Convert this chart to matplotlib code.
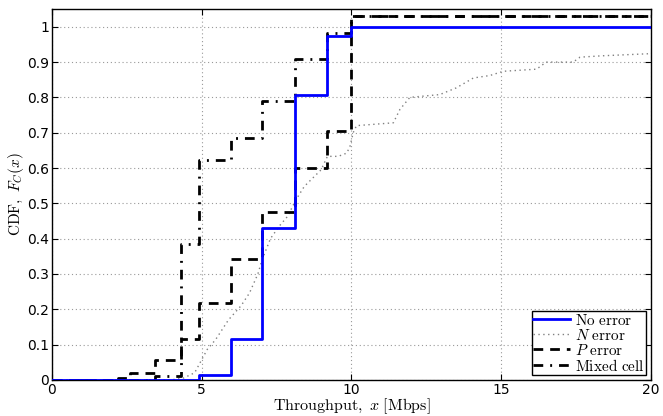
import matplotlib
matplotlib.use("Agg")
import matplotlib.pyplot as plt

plt.rcParams['mathtext.fontset'] = 'cm'
plt.rcParams['font.family'] = ['DejaVu Sans']

# No error (blue step CDF)
noerr_x = [0, 4.91, 5.98, 7.02, 8.12, 9.2, 10.0, 20]
noerr_y = [0, 0.015, 0.116, 0.43, 0.807, 0.974, 1.0, 1.0]

# P error (dashed step CDF)
perr_x = [0, 2.2, 2.6, 3.45, 4.33, 4.92, 5.98, 7.02, 8.12, 9.2, 10.0, 20]
perr_y = [0, 0.005, 0.019, 0.055, 0.117, 0.217, 0.342, 0.475, 0.6, 0.705, 1.032, 1.032]

# Mixed cell (dash-dot step CDF)
mixed_x = [0, 3.44, 4.33, 4.91, 5.98, 7.02, 8.12, 9.2, 10.0, 20]
mixed_y = [0, 0.012, 0.385, 0.623, 0.686, 0.79, 0.908, 0.983, 1.032, 1.032]

# N error (dotted empirical CDF)
nerr_x = [0, 4.0, 4.4, 4.77, 5.19, 5.47, 5.9, 6.32, 6.6, 6.88, 7.02, 7.3, 7.59, 7.87,
          8.15, 8.43, 8.99, 9.2, 9.56, 9.84, 9.95, 10.06, 10.17, 11.4, 11.62, 11.95,
          12.95, 13.5, 14.07, 14.62, 15.07, 16.18, 16.5, 17.4, 17.63, 18.4, 20.0]
nerr_y = [0, 0, 0.005, 0.02, 0.086, 0.114, 0.17, 0.21, 0.246, 0.30, 0.34, 0.40, 0.435, 0.463,
          0.51, 0.548, 0.595, 0.633, 0.633, 0.642, 0.66, 0.70, 0.72, 0.728, 0.766, 0.80,
          0.808, 0.827, 0.855, 0.862, 0.874, 0.88, 0.90, 0.90, 0.914, 0.918, 0.924]

fig = plt.figure(figsize=(6.63, 4.16), dpi=100)
ax = fig.add_axes([0.078, 0.087, 0.904, 0.891])

ax.step(noerr_x, noerr_y, where='post', color='#0000ff', lw=2.0,
        label=r'$\mathrm{No\ error}$', zorder=4)
ax.plot(nerr_x, nerr_y, color='#808080', lw=1.0, ls=(0, (1, 2.5)),
        label=r'$N\ \mathrm{error}$', zorder=2)
ax.step(perr_x, perr_y, where='post', color='black', lw=2.0, ls=(0, (3.5, 2.5)),
        label=r'$P\ \mathrm{error}$', zorder=3)
ax.step(mixed_x, mixed_y, where='post', color='black', lw=2.0, ls=(0, (3.5, 2.5, 0.7, 2.5)),
        label=r'$\mathrm{Mixed\ cell}$', zorder=3)

ax.set_xlim(0, 20)
ax.set_ylim(0, 1.05)
ax.set_xticks([0, 5, 10, 15, 20])
ax.set_yticks([0, 0.1, 0.2, 0.3, 0.4, 0.5, 0.6, 0.7, 0.8, 0.9, 1.0])
ax.set_yticklabels(['0', '0.1', '0.2', '0.3', '0.4', '0.5', '0.6', '0.7', '0.8', '0.9', '1'])
ax.tick_params(direction='in', top=True, right=True, labelsize=10, length=4, pad=2)
ax.grid(True, color='#999999', ls=(0, (1, 2.5)), lw=0.8)
for s in ax.spines.values():
    s.set_linewidth(1.0)

ax.set_xlabel(r'$\mathrm{Throughput,}\ x\ \mathrm{[Mbps]}$', fontsize=11.5, labelpad=0)
ax.set_ylabel(r'$\mathrm{CDF,}\ F_C(x)$', fontsize=11, labelpad=1)

leg = ax.legend(loc='lower right', fontsize=11, frameon=True, fancybox=False,
                edgecolor='black', framealpha=1, borderpad=0.1, labelspacing=0.0,
                handlelength=2.4, handletextpad=0.35, borderaxespad=0.3)
leg.get_frame().set_linewidth(1.0)

fig.savefig('out.png', dpi=100)
